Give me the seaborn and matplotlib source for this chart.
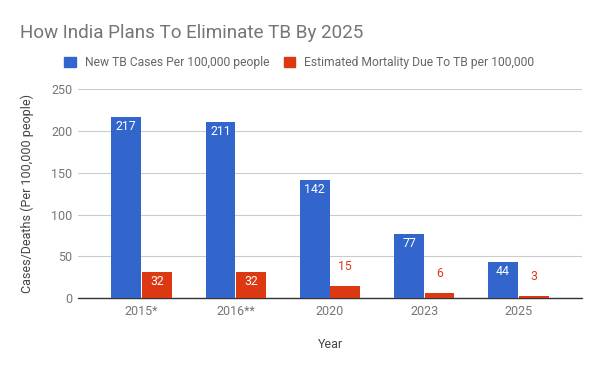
import matplotlib

matplotlib.use("Agg")
import matplotlib.pyplot as plt
import pandas as pd
import seaborn as sns
from matplotlib.patches import Patch

# Chart data
years = ["2015*", "2016**", "2020", "2023", "2025"]
new_cases = [217, 211, 142, 77, 44]
mortality = [32, 32, 15, 6, 3]
series_names = [
    "New TB Cases Per 100,000 people",
    "Estimated Mortality Due To TB per 100,000",
]
colors = ["#3366cc", "#dc3912"]
y_ticks = [0, 50, 100, 150, 200, 250]

sns.set_style("white")
plt.rcParams["font.family"] = ["Roboto", "DejaVu Sans"]

df = pd.DataFrame(
    {
        "year": years * 2,
        "value": new_cases + mortality,
        "series": [series_names[0]] * len(years) + [series_names[1]] * len(years),
    }
)

fig = plt.figure(figsize=(6, 3.71), dpi=100)
ax = fig.add_axes([0.13, 0.196, 0.84, 0.5633])

sns.barplot(
    data=df,
    x="year",
    y="value",
    hue="series",
    order=years,
    hue_order=series_names,
    palette=dict(zip(series_names, colors)),
    saturation=1,
    width=0.65,
    gap=0.03,
    linewidth=0,
    ax=ax,
    legend=False,
)

ax.set_xlim(-0.675, len(years) - 1 + 0.675)
ax.set_ylim(0, 250)
ax.set_yticks(y_ticks)
for s in ax.spines.values():
    s.set_visible(False)
ax.grid(axis="y", color="#cccccc", linewidth=0.8)
ax.set_axisbelow(True)
ax.axhline(0, color="#333333", linewidth=1.0, clip_on=False, zorder=0.8)
ax.tick_params(axis="both", length=0, labelsize=9, colors="#757575")
ax.tick_params(axis="y", pad=4)
ax.tick_params(axis="x", pad=5)

# Value labels: inside the bar if tall enough, otherwise above it
for container, color in zip(ax.containers, colors):
    for bar in container:
        h = bar.get_height()
        x = bar.get_x() + bar.get_width() / 2
        if h >= 20:
            ax.annotate(f"{h:.0f}", (x, h), xytext=(0, -7), textcoords="offset points",
                        ha="center", va="center", color="white", fontsize=8.8)
        else:
            ax.annotate(f"{h:.0f}", (x, h), xytext=(0, 14), textcoords="offset points",
                        ha="center", va="center", color=color, fontsize=8.8)

ax.set_xlabel("Year", fontsize=9, color="#444444")
ax.xaxis.set_label_coords(0.5, -0.219)
ax.xaxis.label.set_verticalalignment("center")
ax.set_ylabel("Cases/Deaths (Per 100,000 people)", fontsize=9, color="#444444")
ax.yaxis.set_label_coords(-0.101, 0.5)
ax.yaxis.label.set_verticalalignment("center")

fig.text(0.0333, 1 - 38 / 371, "How India Plans To Eliminate TB By 2025",
         fontsize=13.6, color="#757575", ha="left", va="baseline")

handles = [Patch(facecolor=c, edgecolor=c) for c in colors]
fig.legend(handles, series_names, loc="center", bbox_to_anchor=(0.499, 1 - 62.7 / 371),
           ncol=2, frameon=False, fontsize=8.7, handlelength=0.95, handleheight=0.95,
           handletextpad=0.75, columnspacing=1.2, labelcolor="#666666")

fig.savefig("out.png", dpi=100)
